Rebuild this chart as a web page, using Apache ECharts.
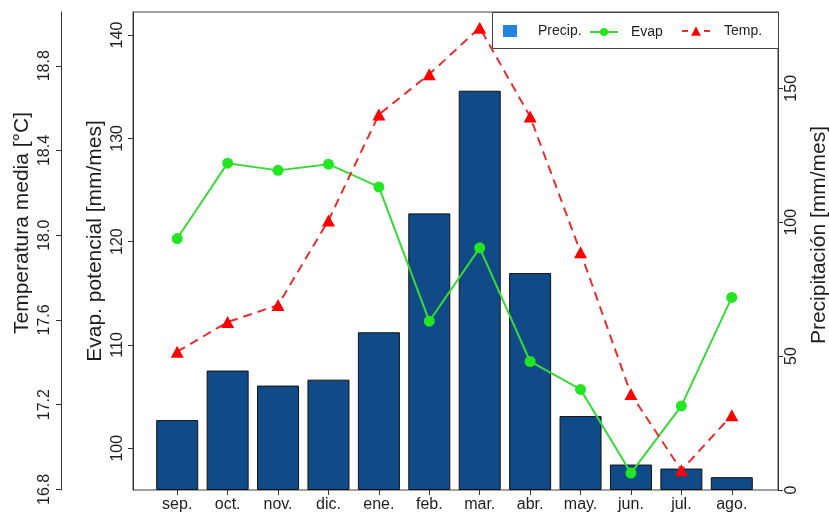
<!DOCTYPE html>
<html>
<head>
<meta charset="utf-8">
<script src="https://cdn.jsdelivr.net/npm/echarts@6/dist/echarts.min.js"></script>
<style>
  html, body { margin: 0; padding: 0; background: #fff; }
  #chart { width: 829px; height: 515px; }
</style>
</head>
<body>
<div id="chart"></div>
<script>
// Monthly climate data (Sept–Aug hydrological year)
const months = ['sep.', 'oct.', 'nov.', 'dic.', 'ene.', 'feb.', 'mar.', 'abr.', 'may.', 'jun.', 'jul.', 'ago.'];
const precip = [26.1, 44.6, 39.0, 41.2, 58.9, 103.3, 149.1, 81.0, 27.6, 9.5, 8.0, 4.8];      // mm/mes
const evap   = [120.3, 127.6, 126.9, 127.5, 125.3, 112.3, 119.4, 108.4, 105.7, 97.6, 104.1, 114.6]; // mm/mes
const temp   = [17.45, 17.59, 17.67, 18.07, 18.57, 18.76, 18.98, 18.56, 17.92, 17.25, 16.89, 17.15]; // °C

// Tick positions for the three value axes
const tempTicks   = [16.8, 17.2, 17.6, 18.0, 18.4, 18.8];
const evapTicks   = [100, 110, 120, 130, 140];
const precipTicks = [0, 50, 100, 150];

const FONT = '"Liberation Sans", Arial, Helvetica, sans-serif';
const INK = '#1e1e1e';
const FRAME = '#444';

const chart = echarts.init(document.getElementById('chart'), null, { renderer: 'canvas' });

function valueAxis(cfg) {
  return {
    type: 'value',
    gridIndex: 0,
    position: cfg.position,
    offset: cfg.offset,
    min: cfg.min,
    max: cfg.max,
    name: cfg.name,
    nameLocation: 'middle',
    nameRotate: 90,
    nameGap: cfg.nameGap,
    nameMoveOverlap: false,
    nameTextStyle: { fontSize: 21, color: INK, fontFamily: FONT, padding: cfg.namePadding || 0 },
    axisLine: { show: true, lineStyle: { color: '#333', width: 1 } },
    axisTick: { show: true, length: 5, customValues: cfg.ticks, lineStyle: { color: '#333' } },
    axisLabel: {
      customValues: cfg.ticks,
      rotate: 90,
      margin: cfg.labelMargin,
      fontSize: 16,
      color: INK,
      fontFamily: FONT,
      formatter: cfg.formatter
    },
    splitLine: { show: false }
  };
}

const option = {
  animation: false,
  backgroundColor: '#fff',
  textStyle: { fontFamily: FONT },
  grid: [
    { left: 152, right: 72, top: 12, bottom: 25, outerBoundsMode: 'none', containLabel: false },
    // plot frame
    { left: 133, right: 51, top: 12, bottom: 25, outerBoundsMode: 'none', containLabel: false,
      show: true, borderColor: FRAME, borderWidth: 1, backgroundColor: 'transparent' }
  ],
  xAxis: [
    {
      type: 'category',
      gridIndex: 0,
      data: months,
      axisLine: { show: false },
      axisTick: { show: true, alignWithLabel: true, length: 5, lineStyle: { color: '#333' } },
      axisLabel: { fontSize: 16, color: INK, margin: 7, fontFamily: FONT }
    },
    { type: 'value', gridIndex: 1, show: false }
  ],
  yAxis: [
    valueAxis({
      position: 'left', offset: 91, min: 16.797, max: 19.054, ticks: tempTicks,
      name: 'Temperatura media [°C]', nameGap: 28, labelMargin: 8,
      namePadding: [0, 0, 0, 56],
      formatter: v => v.toFixed(1)
    }),
    valueAxis({
      position: 'left', offset: 19, min: 95.96, max: 142.23, ticks: evapTicks,
      name: 'Evap. potencial [mm/mes]', nameGap: 27, labelMargin: 7,
      namePadding: [0, 0, 0, 20],
      formatter: v => String(v)
    }),
    valueAxis({
      position: 'right', offset: 21, min: 0, max: 178.5, ticks: precipTicks,
      name: 'Precipitación [mm/mes]', nameGap: 31, labelMargin: 6,
      namePadding: [0, 0, 0, 32],
      formatter: v => String(v)
    }),
    { type: 'value', gridIndex: 1, show: false }
  ],
  graphic: [
    {
      type: 'rect',
      left: 492, top: 12, z: 9,
      shape: { x: 0, y: 0, width: 286, height: 36 },
      style: { fill: '#fff', stroke: FRAME, lineWidth: 1 }
    }
  ],
  legend: [
    {
      z: 10, left: 503, top: 24, padding: 0, selectedMode: false,
      itemWidth: 14, itemHeight: 12,
      textStyle: { fontSize: 14, color: INK, fontFamily: FONT, padding: [0, 0, 0, 16] },
      data: [{ name: 'Precip.', icon: 'rect', itemStyle: { color: '#2383e2', borderWidth: 0 } }]
    },
    {
      z: 10, left: 589, top: 25, padding: 0, selectedMode: false,
      itemWidth: 28, itemHeight: 10,
      textStyle: { fontSize: 14, color: INK, fontFamily: FONT, padding: [0, 0, 0, 8] },
      data: [{ name: 'Evap' }]
    },
    {
      z: 10, left: 681, top: 24, padding: 0, selectedMode: false,
      itemWidth: 28, itemHeight: 12,
      textStyle: { fontSize: 14, color: INK, fontFamily: FONT, padding: [0, 0, 0, 9] },
      data: [{ name: 'Temp.', lineStyle: { type: [6, 16] } }]
    }
  ],
  series: [
    {
      name: 'Precip.',
      type: 'bar',
      xAxisIndex: 0,
      yAxisIndex: 2,
      data: precip,
      barWidth: 42,
      itemStyle: { color: '#104a87', borderColor: '#111', borderWidth: 1 },
      z: 2
    },
    {
      name: 'Evap',
      type: 'line',
      xAxisIndex: 0,
      yAxisIndex: 1,
      data: evap,
      symbol: 'circle',
      symbolSize: 11,
      itemStyle: { color: '#22e622' },
      lineStyle: { color: '#3ad83a', width: 2 },
      z: 3
    },
    {
      name: 'Temp.',
      type: 'line',
      xAxisIndex: 0,
      yAxisIndex: 0,
      data: temp,
      symbol: 'triangle',
      symbolSize: [13, 12],
      itemStyle: { color: '#ff0000' },
      lineStyle: { color: '#e62e2e', width: 2, type: [9, 6] },
      z: 4
    }
  ]
};

chart.setOption(option);
</script>
</body>
</html>
